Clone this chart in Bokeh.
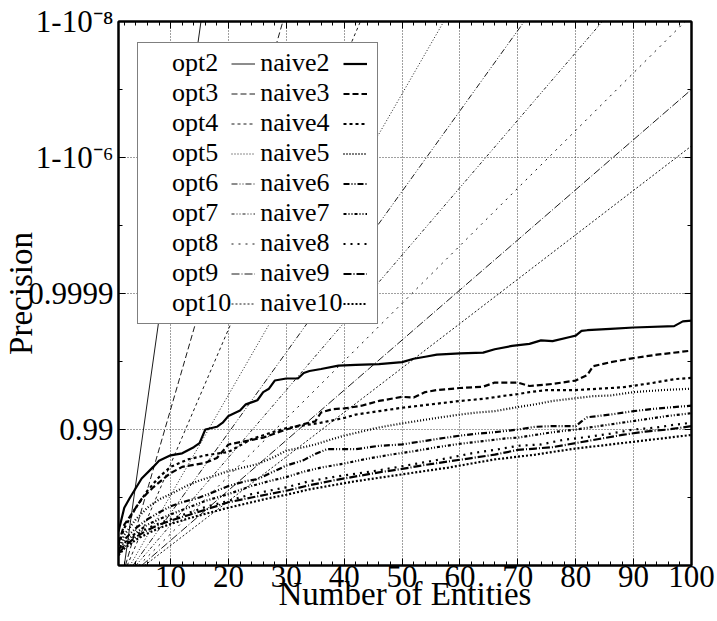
from bokeh.plotting import figure
from bokeh.models import Range1d, FixedTicker, LinearAxis, Legend, LegendItem
from bokeh.embed import file_html
from bokeh.resources import INLINE

FONT = "Liberation Serif"

# ---------------- data ----------------
x_ticks = [10, 20, 30, 40, 50, 60, 70, 80, 90, 100]
x_minor = [2, 4, 6, 8, 12, 14, 16, 18, 22, 24, 26, 28, 32, 34, 36, 38, 42, 44, 46, 48,
           52, 54, 56, 58, 62, 64, 66, 68, 72, 74, 76, 78, 82, 84, 86, 88, 92, 94, 96, 98]
y_ticks = [2, 4, 6, 8]
y_tick_labels = ["0.99", "0.9999", "1-10\u207b\u2076", "1-10\u207b\u2078"]
y_minor = [1, 3, 5, 7]

ks = [2, 3, 4, 5, 6, 7, 8, 9, 10]

# optimal (thin, straight) lines: start and end points
opt_x = {
    2: [2.0, 15.25], 3: [2.2, 29.4], 4: [2.5, 42.8], 5: [3.0, 57.2], 6: [3.5, 71.1],
    7: [4.0, 84.6], 8: [4.5, 98.9], 9: [5.0, 100.0], 10: [5.5, 100.0],
}
opt_y = {
    2: [0, 8], 3: [0, 8], 4: [0, 8], 5: [0, 8], 6: [0, 8],
    7: [0, 8], 8: [0, 8], 9: [0, 7.0], 10: [0, 6.17],
}

naive2_x = [1, 2, 3, 5, 7, 8, 10, 12, 14, 15, 16, 18, 19, 20, 22, 23, 25, 26, 27, 28, 30, 32, 33, 34,
            36, 39, 42, 46, 50, 52, 54, 56, 60, 64, 66, 69, 72, 74, 76, 79, 80, 81, 82, 86, 90, 97, 98.5, 100]
naive2_y = [0.5, 0.85, 1.0, 1.28, 1.45, 1.54, 1.62, 1.65, 1.74, 1.80, 2.0, 2.04, 2.1, 2.2, 2.28, 2.37,
            2.43, 2.55, 2.6, 2.72, 2.75, 2.75, 2.83, 2.86, 2.89, 2.94, 2.95, 2.96, 2.99, 3.04, 3.07, 3.1,
            3.12, 3.13, 3.18, 3.23, 3.26, 3.31, 3.3, 3.36, 3.38, 3.45, 3.46, 3.48, 3.5, 3.52, 3.59, 3.6]

naive3_x = [1, 2, 4, 5, 7, 10, 12, 14, 16, 18, 19, 20, 23, 26, 30, 33, 35, 36, 38, 40, 43, 46, 50, 52,
            54, 56, 60, 64, 66, 70, 72, 76, 80, 82, 83, 86, 90, 94, 100]
naive3_y = [0.33, 0.6, 0.85, 0.98, 1.15, 1.36, 1.45, 1.48, 1.51, 1.58, 1.68, 1.78, 1.83, 1.88, 2.0, 2.08,
            2.12, 2.25, 2.3, 2.31, 2.35, 2.42, 2.48, 2.47, 2.55, 2.58, 2.61, 2.63, 2.69, 2.69, 2.64, 2.67,
            2.72, 2.8, 2.93, 2.99, 3.05, 3.1, 3.16]

naive4_x = [1, 2, 4, 6, 8, 10, 13, 16, 20, 24, 28, 30, 33, 36, 40, 42, 46, 50, 55, 60, 64, 68, 70, 72,
            75, 80, 84, 88, 93, 97, 100]
naive4_y = [0.3, 0.55, 0.85, 1.1, 1.3, 1.45, 1.56, 1.62, 1.67, 1.86, 1.97, 2.02, 2.06, 2.1, 2.17, 2.22,
            2.27, 2.32, 2.37, 2.42, 2.45, 2.5, 2.52, 2.55, 2.58, 2.58, 2.6, 2.62, 2.68, 2.74, 2.76]

naive5_x = [1, 2, 4, 6, 8, 10, 13, 15, 18, 20, 23, 25, 28, 30, 33, 35, 38, 40, 43, 46, 50, 53, 56, 60,
            63, 66, 70, 73, 76, 80, 83, 86, 90, 95, 100]
naive5_y = [0.25, 0.45, 0.68, 0.85, 0.97, 1.05, 1.18, 1.25, 1.33, 1.39, 1.45, 1.49, 1.6, 1.69, 1.74, 1.78,
            1.86, 1.91, 1.97, 2.03, 2.09, 2.13, 2.17, 2.22, 2.25, 2.27, 2.33, 2.37, 2.42, 2.46, 2.49, 2.5,
            2.55, 2.58, 2.6]

naive6_x = [1, 2, 4, 6, 8, 10, 12, 15, 18, 20, 23, 25, 27, 30, 33, 35, 37, 40, 42, 46, 50, 53, 56, 60,
            63, 66, 70, 73, 76, 80, 81, 82, 86, 90, 93, 97, 100]
naive6_y = [0.22, 0.38, 0.55, 0.68, 0.78, 0.87, 0.93, 1.0, 1.1, 1.17, 1.24, 1.27, 1.35, 1.47, 1.55, 1.64,
            1.71, 1.71, 1.71, 1.76, 1.78, 1.82, 1.86, 1.91, 1.94, 1.96, 2.0, 2.04, 2.05, 2.05, 2.12, 2.18,
            2.22, 2.27, 2.3, 2.33, 2.35]

naive7_x = [1, 2, 4, 6, 8, 10, 13, 16, 20, 24, 27, 30, 33, 36, 40, 44, 48, 52, 56, 60, 64, 68, 70, 73,
            76, 80, 84, 88, 92, 96, 100]
naive7_y = [0.2, 0.33, 0.48, 0.6, 0.68, 0.75, 0.85, 0.95, 1.05, 1.17, 1.24, 1.3, 1.38, 1.44, 1.5, 1.57,
            1.63, 1.68, 1.74, 1.79, 1.83, 1.87, 1.88, 1.92, 1.96, 2.0, 2.05, 2.1, 2.15, 2.2, 2.24]

naive8_x = [1, 2, 4, 6, 8, 10, 13, 16, 20, 24, 27, 30, 34, 38, 42, 46, 50, 54, 58, 62, 66, 70, 74, 78,
            82, 86, 90, 94, 97, 100]
naive8_y = [0.18, 0.3, 0.45, 0.55, 0.62, 0.68, 0.77, 0.86, 0.95, 1.05, 1.1, 1.15, 1.24, 1.3, 1.35, 1.4,
            1.46, 1.52, 1.58, 1.65, 1.7, 1.76, 1.78, 1.85, 1.89, 1.94, 2.0, 2.03, 2.07, 2.1]

naive9_x = [1, 2, 4, 6, 8, 10, 13, 16, 20, 24, 27, 30, 34, 38, 42, 46, 50, 54, 58, 62, 66, 70, 73, 76,
            80, 84, 88, 92, 96, 100]
naive9_y = [0.17, 0.28, 0.42, 0.52, 0.6, 0.66, 0.74, 0.82, 0.93, 1.0, 1.05, 1.1, 1.18, 1.25, 1.31, 1.37,
            1.42, 1.48, 1.53, 1.58, 1.63, 1.7, 1.72, 1.74, 1.8, 1.86, 1.92, 1.97, 2.0, 2.05]

naive10_x = [1, 2, 4, 6, 8, 10, 13, 16, 20, 24, 27, 30, 34, 38, 42, 46, 50, 54, 58, 62, 66, 70, 73, 76,
             80, 84, 88, 92, 96, 100]
naive10_y = [0.15, 0.25, 0.38, 0.47, 0.55, 0.61, 0.69, 0.76, 0.85, 0.93, 0.99, 1.04, 1.12, 1.18, 1.24,
             1.29, 1.34, 1.39, 1.44, 1.5, 1.56, 1.6, 1.63, 1.67, 1.72, 1.76, 1.8, 1.84, 1.88, 1.92]

naive_x = {2: naive2_x, 3: naive3_x, 4: naive4_x, 5: naive5_x, 6: naive6_x,
           7: naive7_x, 8: naive8_x, 9: naive9_x, 10: naive10_x}
naive_y = {2: naive2_y, 3: naive3_y, 4: naive4_y, 5: naive5_y, 6: naive6_y,
           7: naive7_y, 8: naive8_y, 9: naive9_y, 10: naive10_y}

# ---------------- styles ----------------
dashes = {2: "solid", 3: "6 3", 4: "3 3", 5: "1 2", 6: "6 2 1 2 1 2",
          7: "3 2 1 2 1 2", 8: "2 5", 9: "8 2 1 2", 10: "2 2"}

p = figure(width=717, height=621, x_range=Range1d(1, 100), y_range=Range1d(0, 8),
           output_backend="svg", toolbar_location=None,
           min_border_left=114, min_border_right=26, min_border_top=21, min_border_bottom=56)
p.background_fill_color = "white"
p.border_fill_color = "white"
p.outline_line_color = "black"
p.outline_line_width = 2

xt = FixedTicker(ticks=x_ticks, minor_ticks=x_minor)
yt = FixedTicker(ticks=y_ticks, minor_ticks=y_minor)
p.xaxis.ticker = xt
p.yaxis.ticker = yt
p.yaxis.major_label_overrides = {t: l for t, l in zip(y_ticks, y_tick_labels)}

for ax in (p.xaxis[0], p.yaxis[0]):
    ax.axis_line_width = 2
    ax.major_tick_in = 7
    ax.major_tick_out = 0
    ax.minor_tick_in = 4
    ax.minor_tick_out = 0
    ax.major_label_text_font = FONT
    ax.major_label_text_font_size = "31px"
    ax.major_label_text_color = "black"
    ax.axis_label_text_font = FONT
    ax.axis_label_text_font_size = "33px"
    ax.axis_label_text_font_style = "normal"
    ax.axis_label_text_color = "black"

p.xaxis.axis_label = "Number of Entities"
p.xaxis.major_label_standoff = 0
p.xaxis.axis_label_standoff = -14
p.yaxis.axis_label = "Precision"
p.yaxis.major_label_standoff = 5
p.yaxis.axis_label_standoff = -14

for place, tick in (("above", xt), ("right", yt)):
    a = LinearAxis(ticker=tick, major_label_text_color=None, major_label_standoff=0,
                   axis_line_width=2, major_tick_in=7, major_tick_out=0,
                   minor_tick_in=4, minor_tick_out=0)
    p.add_layout(a, place)

for g in (p.xgrid[0], p.ygrid[0]):
    g.grid_line_color = "black"
    g.grid_line_alpha = 0.75
    g.grid_line_dash = "1 2"
    g.grid_line_width = 1

opt_r = {}
naive_r = {}
for k in ks:
    opt_r[k] = p.line(opt_x[k], opt_y[k], line_color="black", line_width=0.9, line_dash=dashes[k])
for k in ks:
    naive_r[k] = p.line(naive_x[k], naive_y[k], line_color="black", line_width=2.2, line_dash=dashes[k])

items = []
for k in ks:
    items.append(LegendItem(label="opt%d" % k, renderers=[]))
for k in ks:
    items.append(LegendItem(label="naive%d" % k, renderers=[opt_r[k]]))
for k in ks:
    items.append(LegendItem(label="", renderers=[naive_r[k]]))

leg = Legend(items=items, location=(19, 241), orientation="vertical", nrows=9,
             label_text_font=FONT, label_text_font_size="26px", label_text_color="black",
             label_height=29, glyph_height=29, glyph_width=24, label_standoff=5, label_width=0,
             spacing=0, padding=5, margin=0,
             border_line_color="black", border_line_width=1.5,
             background_fill_color="white", background_fill_alpha=1.0)
p.add_layout(leg, "center")

open("out.html", "w").write(file_html(p, INLINE))
